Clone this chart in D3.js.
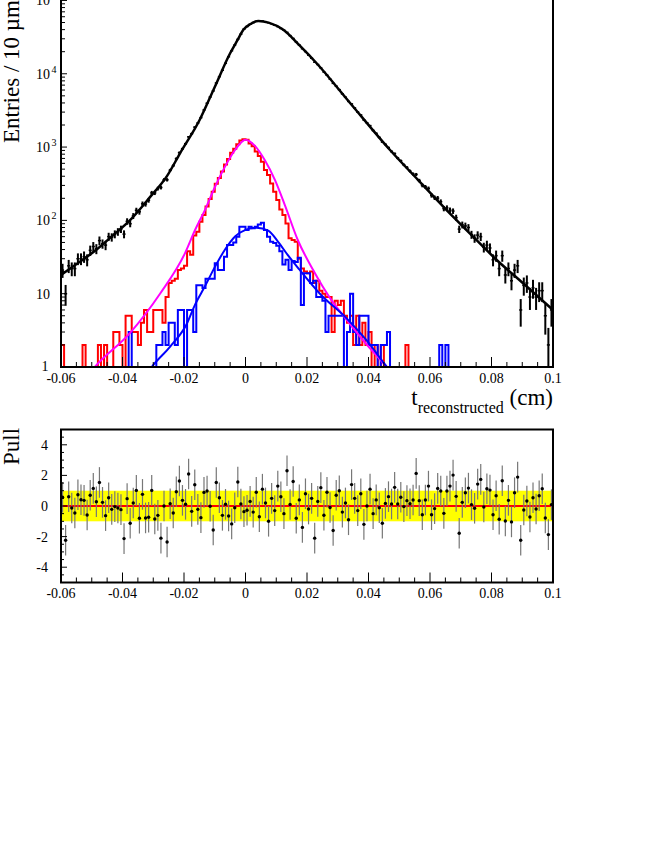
<!DOCTYPE html>
<html>
<head>
<meta charset="utf-8">
<script src="https://cdn.jsdelivr.net/npm/d3@7"></script>
<style>
body { margin: 0; background: #fff; }
svg { display: block; }
text { font-family: "Liberation Serif", "DejaVu Serif", serif; fill: #000; }
</style>
</head>
<body>
<script>
// 160 bins of 10 um between -0.06 and 0.1 cm
let tMin = -0.06, tMax = 0.1, binWidth = 0.001;

// all events (black points)
let dataCounts = [
    21, 10, 24, 22, 22, 30, 30, 32, 29, 39,
    44, 41, 53, 48, 46, 60, 59, 65, 70, 76,
    65, 97, 90, 115, 137, 131, 168, 167, 188, 237,
    237, 272, 281, 358, 358, 483, 557, 696, 840, 949,
    1110, 1378, 1524, 1871, 2128, 2519, 3207, 3961, 4818, 5832,
    7486, 9131, 11155, 13883, 17055, 20582, 24643, 29508, 34694, 40665,
    44101, 47385, 50030, 52085, 52320, 52491, 51335, 49667, 48190, 45856,
    43922, 41522, 39251, 36748, 33128, 30337, 27098, 24613, 21922, 20063,
    17963, 16284, 14366, 13375, 12021, 10558, 9550, 8444, 7395, 6771,
    6075, 5317, 4789, 4197, 3879, 3417, 3004, 2740, 2345, 2143,
    1962, 1685, 1540, 1354, 1172, 1087, 983, 871, 816, 708,
    651, 573, 527, 471, 430, 423, 350, 300, 287, 273,
    219, 204, 201, 180, 145, 148, 138, 134, 109, 76,
    87, 84, 80, 64, 57, 63, 60, 43, 46, 42,
    29, 33, 22, 33, 18, 22, 15, 21, 24, 6,
    13, 14, 9, 12, 9, 11, 11, 5, 2, 6
];

// red histogram
let redCounts = [
    2, 0, 0, 0, 0, 0, 0, 2, 0, 0,
    0, 0, 2, 0, 2, 0, 0, 3, 3, 2,
    0, 5, 5, 3, 3, 2, 4, 6, 3, 3,
    6, 6, 6, 4, 9, 14, 15, 16, 21, 22,
    24, 38, 34, 62, 70, 96, 118, 155, 195, 245,
    315, 380, 465, 580, 690, 840, 950, 1090, 1230, 1280,
    1260, 1120, 1030, 870, 755, 630, 487, 415, 318, 245,
    190, 141, 118, 91, 57, 54, 51, 30, 22, 20,
    19, 20, 14, 15, 11, 10, 9, 9, 3, 8,
    7, 8, 5, 4, 5, 2, 5, 2, 4, 2,
    3, 0, 2, 0, 2, 0, 0, 0, 0, 0,
    0, 0, 2, 0, 0, 0, 0, 0, 0, 0,
    0, 0, 0, 0, 0, 0, 0, 0, 0, 0,
    0, 0, 0, 0, 0, 0, 0, 0, 0, 0,
    0, 0, 0, 0, 0, 0, 0, 0, 0, 0,
    0, 0, 0, 0, 0, 0, 0, 0, 0, 0
];

// blue histogram
let blueCounts = [
    0, 0, 0, 0, 0, 0, 0, 0, 0, 0,
    0, 0, 0, 0, 0, 0, 0, 0, 0, 0,
    0, 0, 3, 0, 0, 0, 0, 0, 0, 0,
    0, 2, 2, 3, 2, 4, 4, 2, 6, 6,
    1, 6, 6, 3, 13, 13, 12, 16, 16, 16,
    26, 21, 21, 32, 46, 46, 50, 60, 82, 82,
    74, 82, 78, 82, 88, 93, 74, 60, 51, 49,
    45, 38, 25, 29, 21, 28, 27, 31, 7, 19,
    19, 14, 15, 9, 9, 8, 3, 5, 5, 5,
    5, 5, 1, 3, 10, 3, 2, 5, 5, 5,
    2, 2, 2, 0, 2, 2, 3, 0, 0, 0,
    0, 0, 0, 0, 0, 0, 0, 0, 0, 0,
    0, 0, 0, 2, 0, 2, 0, 0, 0, 0,
    0, 0, 0, 0, 0, 0, 0, 0, 0, 0,
    0, 0, 0, 0, 0, 0, 0, 0, 0, 0,
    0, 0, 0, 0, 0, 0, 0, 0, 0, 0
];

// pulls of the black points
let pulls = [
    0.57, -2.24, 0.6, -0.13, -0.46, 0.74, 0.41, 0.37, -0.59, 0.7,
    1.15, 0.28, 1.54, 0.24, -0.63, 0.54, -0.22, -0.04, -0.13, -0.24,
    -2.13, 0.48, -1.13, 0.2, 1.02, -0.8, 0.76, -0.78, -0.74, 1.02,
    -0.85, -0.61, -2.1, 0, -2.35, 0.15, -0.46, 0.93, 1.63, 0.37,
    0.11, 2.09, -0.35, 1.39, -0.22, -0.76, 0.89, 0.98, -0.02, -1.57,
    1.54, 0.54, -0.61, 0.11, -0.65, -1.17, -0.11, 1.57, 0.13, -0.37,
    -0.28, 0.3, -0.4, 0.9, -0.7, 1.1, 0.2, -1.0, 0.5, -0.3,
    1.3, 0.6, -0.5, 2.3, 0.1, 1.6, -0.8, 0.4, -1.4, 0.8,
    -0.2, 0.5, -2.1, 0.3, 1.2, -0.6, 0.9, -0.1, -1.6, 0.7,
    1.0, -0.4, 0.2, -0.9, 1.4, 0.5, -0.3, 0.8, -1.2, 0.0,
    1.1, -0.5, 0.4, -0.11, -1.13, 0.17, 0.61, 0.13, 1.22, 0.13,
    0.57, -0.04, 0.35, 0.15, 0.39, 2.13, 0.35, -0.57, 0.39, 1.3,
    -0.57, -0.17, 1.15, 0.98, -0.48, 0.98, 1.3, 2.02, 0.63, -1.78,
    0.24, 0.87, 1.17, 0.09, -0.15, 1.43, 1.74, -0.07, 1.13, 1.04,
    -0.57, 0.67, -0.87, 1.65, -0.98, 0.37, -1.04, 0.87, 1.89, -2.24,
    -0.26, 0.33, -0.72, 0.54, -0.2, 0.67, 1.13, -0.78, -1.87, 0.09
];

// fitted curves, [t, entries]
let totalFit = [
    [-0.06, 18], [-0.054, 27], [-0.0484, 40], [-0.043, 63], [-0.0376, 100],
    [-0.031, 209], [-0.0256, 398], [-0.0213, 822], [-0.0148, 2400], [-0.01, 6600],
    [-0.005, 19050], [-0.0025, 29240], [-0.0007, 39800], [0.0015, 47300], [0.0042, 52500],
    [0.0075, 49900], [0.0123, 39800], [0.0175, 24500], [0.0232, 13800], [0.034, 4000],
    [0.047, 912], [0.056, 360], [0.0654, 138], [0.0735, 63], [0.0817, 28.8],
    [0.09, 14.2], [0.1, 6.0]
];
let redFit = [
    [-0.052, 0.7], [-0.049, 1.0], [-0.0376, 2.9], [-0.0278, 10], [-0.0197, 35.5],
    [-0.0164, 74], [-0.0132, 138], [-0.0099, 288], [-0.0067, 537], [-0.0034, 912],
    [0, 1259], [0.003, 1047], [0.0063, 661], [0.0096, 355], [0.0128, 162],
    [0.017, 54], [0.022, 21], [0.0275, 8.7], [0.0329, 4.4], [0.0383, 2.3],
    [0.046, 1.0], [0.049, 0.72]
];
let blueFit = [
    [-0.033, 0.7], [-0.0305, 1.0], [-0.0245, 1.9], [-0.0192, 3.8], [-0.0164, 7.1],
    [-0.0132, 12.6], [-0.0099, 23.4], [-0.0067, 39.8], [-0.0034, 60.3], [0, 74.1],
    [0.0036, 79.4], [0.0074, 72.4], [0.0106, 51], [0.0139, 33], [0.0175, 21.4],
    [0.0242, 10], [0.0329, 4.6], [0.0394, 2.3], [0.046, 1.0], [0.049, 0.7]
];

let xTickValues = [-0.06, -0.04, -0.02, 0, 0.02, 0.04, 0.06, 0.08, 0.1];
let xTickLabels = ["-0.06", "-0.04", "-0.02", "0", "0.02", "0.04", "0.06", "0.08", "0.1"];
let decadePowers = [0, 1, 2, 3, 4, 5];
let pullTickValues = [-4, -2, 0, 2, 4];

let frameLeft = 61, frameRight = 553,
    mainTop = -14.2, mainBottom = 367,
    pullTop = 429.5, pullBottom = 582.5;

let svg = d3.select("body").append("svg")
    .attr("width", 664)
    .attr("height", 860);

let x = d3.scaleLinear([tMin, tMax], [frameLeft, frameRight]);
let y = d3.scaleLog([1, Math.pow(10, 5.2)], [mainBottom, mainTop]);
let yPull = d3.scaleLinear([-5, 5], [pullBottom, pullTop]);

let binCenter = i => tMin + (i + 0.5) * binWidth;

svg.append("defs").append("clipPath").attr("id", "clipMain")
    .append("rect")
    .attr("x", frameLeft).attr("y", mainTop)
    .attr("width", frameRight - frameLeft)
    .attr("height", mainBottom - mainTop);

// ---------- main panel ----------
let main = svg.append("g").attr("clip-path", "url(#clipMain)");

function histPath(counts) {
    let p = d3.path();
    p.moveTo(x(tMin), y(1));
    counts.forEach((c, i) => {
        let yy = y(Math.max(c, 1));
        p.lineTo(x(tMin + i * binWidth), yy);
        p.lineTo(x(tMin + (i + 1) * binWidth), yy);
    });
    p.lineTo(x(tMax), y(1));
    return p.toString();
}

main.append("path")
    .attr("d", histPath(redCounts))
    .attr("fill", "none").attr("stroke", "#ff0000").attr("stroke-width", 2);
main.append("path")
    .attr("d", histPath(blueCounts))
    .attr("fill", "none").attr("stroke", "#0000ff").attr("stroke-width", 2);

let fitLine = d3.line()
    .x(d => x(d[0]))
    .y(d => y(d[1]))
    .curve(d3.curveMonotoneX);

main.append("path").attr("d", fitLine(redFit))
    .attr("fill", "none").attr("stroke", "#ff00ff").attr("stroke-width", 2);
main.append("path").attr("d", fitLine(blueFit))
    .attr("fill", "none").attr("stroke", "#0000ff").attr("stroke-width", 2);

let points = dataCounts.map((n, i) => ({t: binCenter(i), n: n})).filter(d => d.n > 0);

main.selectAll(".errY").data(points).join("line")
    .attr("class", "errY")
    .attr("x1", d => x(d.t)).attr("x2", d => x(d.t))
    .attr("y1", d => y(Math.max(d.n - Math.sqrt(d.n), 0.3)))
    .attr("y2", d => y(d.n + Math.sqrt(d.n)))
    .attr("stroke", "#000").attr("stroke-width", 2);
main.selectAll(".errX").data(points).join("line")
    .attr("class", "errX")
    .attr("x1", d => x(d.t - binWidth / 2)).attr("x2", d => x(d.t + binWidth / 2))
    .attr("y1", d => y(d.n)).attr("y2", d => y(d.n))
    .attr("stroke", "#000").attr("stroke-width", 1.5);

main.append("path").attr("d", fitLine(totalFit))
    .attr("fill", "none").attr("stroke", "#000").attr("stroke-width", 2.5);

// frame and ticks
svg.append("rect")
    .attr("x", frameLeft).attr("y", mainTop)
    .attr("width", frameRight - frameLeft).attr("height", mainBottom - mainTop)
    .attr("fill", "none").attr("stroke", "#000").attr("stroke-width", 2);

let isMajorX = v => xTickValues.some(m => Math.abs(m - v) < 1e-9);

svg.append("g").selectAll("line").data(x.ticks(32)).join("line")
    .attr("x1", d => x(d)).attr("x2", d => x(d))
    .attr("y1", mainBottom).attr("y2", d => mainBottom - (isMajorX(d) ? 10 : 5))
    .attr("stroke", "#000").attr("stroke-width", 1);

svg.append("g").selectAll("text").data(xTickValues).join("text")
    .attr("x", d => x(d)).attr("y", 383)
    .attr("text-anchor", "middle").attr("font-size", 14)
    .text((d, i) => xTickLabels[i]);

let isDecade = v => Math.abs(Math.log10(v) - Math.round(Math.log10(v))) < 1e-9;

svg.append("g").selectAll("line").data(y.ticks()).join("line")
    .attr("x1", frameLeft).attr("x2", d => frameLeft + (isDecade(d) ? 6 : 4))
    .attr("y1", d => y(d)).attr("y2", d => y(d))
    .attr("stroke", "#000").attr("stroke-width", 1);

let decadeLabels = svg.append("g");
decadePowers.forEach(p => {
    let yy = y(Math.pow(10, p)) + (p === 0 ? 4 : 5);
    decadeLabels.append("text")
        .attr("x", p === 0 ? 48.5 : 50).attr("y", yy)
        .attr("text-anchor", "end").attr("font-size", 14)
        .text(p === 0 ? "1" : "10");
    if (p >= 2) {
        decadeLabels.append("text")
            .attr("x", 51.5).attr("y", yy - 6)
            .attr("font-size", 10)
            .text(p);
    }
});

svg.append("text")
    .attr("transform", "translate(18.5,143) rotate(-90)")
    .attr("font-size", 23)
    .text("Entries / 10 \u00b5m");

let xTitle = svg.append("text")
    .attr("x", frameRight).attr("y", 405)
    .attr("text-anchor", "end").attr("font-size", 23);
xTitle.append("tspan").text("t");
xTitle.append("tspan").attr("font-size", 16).attr("dy", 8).text("reconstructed");
xTitle.append("tspan").attr("dy", -8).text(" (cm)");

// ---------- pull panel ----------
let pull = svg.append("g");

pull.append("rect")
    .attr("x", frameLeft).attr("y", yPull(1))
    .attr("width", frameRight - frameLeft).attr("height", yPull(-1) - yPull(1))
    .attr("fill", "#ffff00");

pull.append("line")
    .attr("x1", frameLeft).attr("x2", frameRight)
    .attr("y1", yPull(0)).attr("y2", yPull(0))
    .attr("stroke", "#ff0000").attr("stroke-width", 2);

let pullPoints = pulls.map((p, i) => ({t: binCenter(i), p: p}));

pull.selectAll(".pullErr").data(pullPoints).join("line")
    .attr("class", "pullErr")
    .attr("x1", d => x(d.t)).attr("x2", d => x(d.t))
    .attr("y1", d => yPull(d.p - 1)).attr("y2", d => yPull(d.p + 1))
    .attr("stroke", "#777").attr("stroke-width", 1.2);

pull.selectAll(".pullDot").data(pullPoints).join("circle")
    .attr("class", "pullDot")
    .attr("cx", d => x(d.t)).attr("cy", d => yPull(d.p))
    .attr("r", 1.7).attr("fill", "#000");

pull.append("rect")
    .attr("x", frameLeft).attr("y", pullTop)
    .attr("width", frameRight - frameLeft).attr("height", pullBottom - pullTop)
    .attr("fill", "none").attr("stroke", "#000").attr("stroke-width", 2);

pull.append("g").selectAll("line").data(x.ticks(32)).join("line")
    .attr("x1", d => x(d)).attr("x2", d => x(d))
    .attr("y1", pullBottom).attr("y2", d => pullBottom - (isMajorX(d) ? 10 : 5))
    .attr("stroke", "#000").attr("stroke-width", 1);

pull.append("g").selectAll("text").data(xTickValues).join("text")
    .attr("x", d => x(d)).attr("y", 598)
    .attr("text-anchor", "middle").attr("font-size", 14)
    .text((d, i) => xTickLabels[i]);

pull.append("g").selectAll("line").data(yPull.ticks(20)).join("line")
    .attr("x1", frameLeft)
    .attr("x2", d => frameLeft + (pullTickValues.includes(d) ? 6 : 3))
    .attr("y1", d => yPull(d)).attr("y2", d => yPull(d))
    .attr("stroke", "#000").attr("stroke-width", 1);

pull.append("g").selectAll("text").data(pullTickValues).join("text")
    .attr("x", 48).attr("y", d => yPull(d) + 5)
    .attr("text-anchor", "end").attr("font-size", 14)
    .text(d => d);

svg.append("text")
    .attr("transform", "translate(18.5,465) rotate(-90)")
    .attr("font-size", 23)
    .text("Pull");
</script>
</body>
</html>
